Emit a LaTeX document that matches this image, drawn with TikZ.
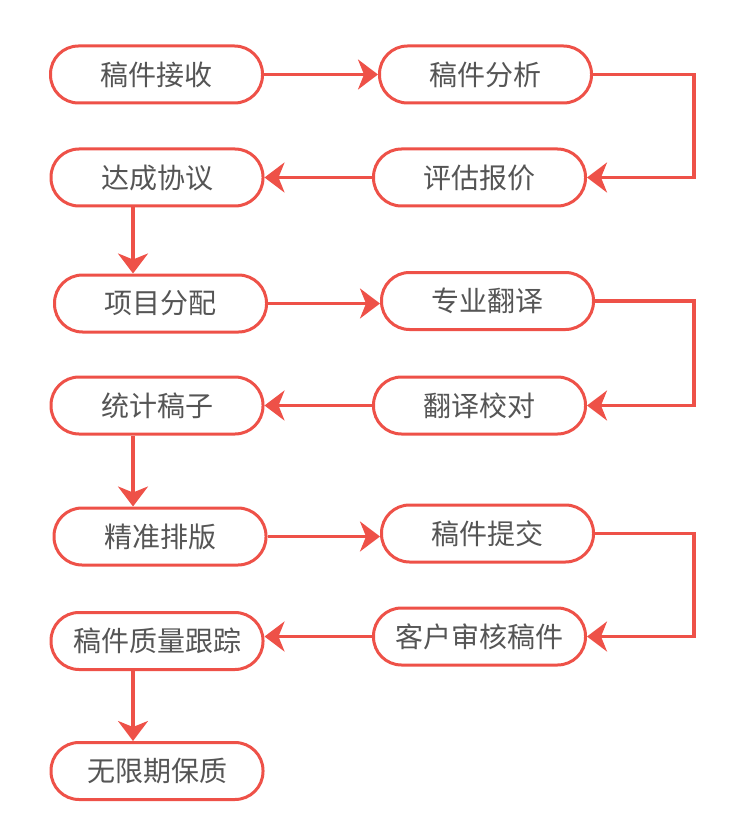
\documentclass[tikz,border=0pt]{standalone}
\usepackage{fontspec}
\setmainfont{Noto Sans CJK SC}
\usetikzlibrary{arrows.meta}
\definecolor{flowred}{RGB}{238,81,72}
\definecolor{flowtext}{RGB}{85,85,85}
\tikzset{
  stepbox/.style={draw=flowred, line width=3pt, rounded corners=28pt, fill=white,
    minimum width=212pt, minimum height=57pt, inner sep=0pt,
    text=flowtext, font=\fontsize{28pt}{32pt}\selectfont},
  flow/.style={draw=flowred, line width=3.2pt,
    -{Stealth[length=20pt, width=30pt, inset=6pt, flowred]}}
}
\begin{document}
\begin{tikzpicture}[x=1pt,y=-1pt]
\useasboundingbox (0,0) rectangle (750,834);
\node[stepbox] (n1) at (156.5,74.5) {稿件接收};
\node[stepbox] (n2) at (485.5,74.5) {稿件分析};
\node[stepbox] (n3) at (157,177.5) {达成协议};
\node[stepbox] (n4) at (479.5,177.5) {评估报价};
\node[stepbox] (n5) at (160.5,303.5) {项目分配};
\node[stepbox] (n6) at (487.5,301) {专业翻译};
\node[stepbox] (n7) at (157,405.5) {统计稿子};
\node[stepbox] (n8) at (479.5,405.5) {翻译校对};
\node[stepbox] (n9) at (160,536.5) {精准排版};
\node[stepbox] (n10) at (487.5,533.5) {稿件提交};
\node[stepbox] (n11) at (157,641) {稿件质量跟踪};
\node[stepbox] (n12) at (479.5,636.5) {客户审核稿件};
\node[stepbox] (n13) at (157,771) {无限期保质};
\coordinate (r1) at (694,0);
% row connectors
\draw[flow] (n1.east) -- (n1.east -| n2.west);
\draw[flow] (n2.east) -- (n2.east -| r1) |- (n4.east);
\draw[flow] (n4.west) -- (n4.west -| n3.east);
\draw[flow] (n3.south -| 133,0) -- (n5.north -| 133,0);
\draw[flow] (n5.east) -- (n5.east -| n6.west);
\draw[flow] (n6.east) -- (n6.east -| r1) |- (n8.east);
\draw[flow] (n8.west) -- (n8.west -| n7.east);
\draw[flow] (n7.south -| 133,0) -- (n9.north -| 133,0);
\draw[flow] (n9.east) -- (n9.east -| n10.west);
\draw[flow] (n10.east) -- (n10.east -| r1) |- (n12.east);
\draw[flow] (n12.west) -- (n12.west -| n11.east);
\draw[flow] (n11.south -| 133,0) -- (n13.north -| 133,0);
\end{tikzpicture}
\end{document}
